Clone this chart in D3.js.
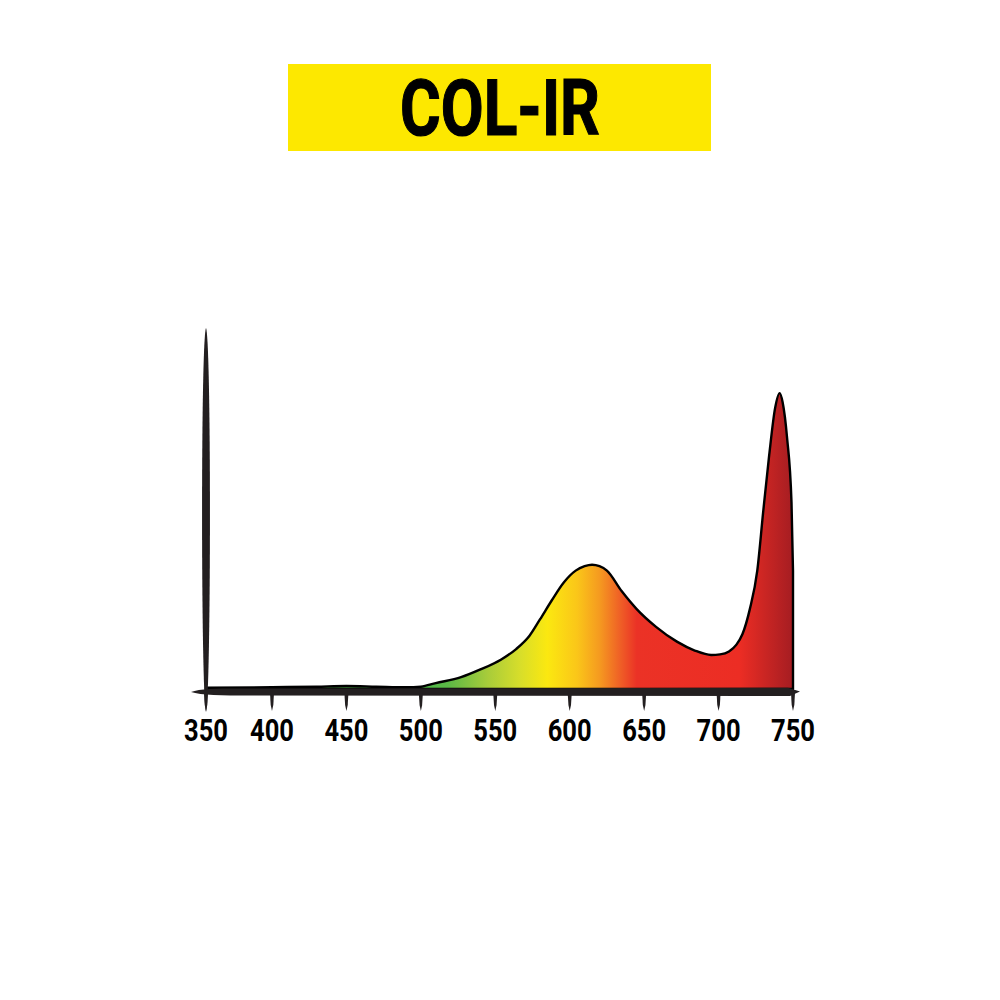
<!DOCTYPE html>
<html>
<head>
<meta charset="utf-8">
<script src="https://cdn.jsdelivr.net/npm/d3@7"></script>
<style>
  html, body { margin: 0; padding: 0; background: #ffffff; }
  svg { display: block; }
</style>
</head>
<body>
<svg id="chart" width="1000" height="1000"></svg>
<script>
// ---- Data ----
const title = "COL-IR";
const tickValues = [350, 400, 450, 500, 550, 600, 650, 700, 750];
const wavelengths = [350, 400, 430, 450, 470, 490, 500, 510, 527, 540, 554, 564, 573, 580, 588, 596, 604, 610, 615, 620, 625, 635, 645, 658, 672, 684, 695, 701, 707, 712, 716, 721, 726, 730, 734, 738, 741, 743, 746, 749, 750];
const intensity   = [0.004, 0.006, 0.008, 0.010, 0.008, 0.006, 0.008, 0.02, 0.04, 0.066, 0.10, 0.135, 0.18, 0.235, 0.30, 0.36, 0.40, 0.415, 0.42, 0.415, 0.40, 0.33, 0.27, 0.21, 0.16, 0.13, 0.115, 0.117, 0.127, 0.15, 0.185, 0.27, 0.40, 0.60, 0.79, 0.95, 1.0, 0.97, 0.85, 0.63, 0.40];
const gradWavelengths = [500, 518, 545, 567, 585, 605, 620, 634, 645, 714, 750];
const gradColors = ["#4db848", "#5bb846", "#a8cc3a", "#d8de2a", "#fbe810", "#fac619", "#f59a20", "#ef5f26", "#eb3226", "#ec2d24", "#a51d22"];

const data = wavelengths.map((w, i) => ({ w, v: intensity[i] }));

// ---- Scales ----
const x = d3.scaleLinear().domain([350, 400, 750]).range([206, 272, 793]);
const y = d3.scaleLinear().domain([0, 1.22]).range([689, 328]);

const svg = d3.select("#chart");
const axisColor = "#231f20";

// ---- Title ----
svg.append("rect")
  .attr("x", 288).attr("y", 64).attr("width", 423).attr("height", 87)
  .attr("fill", "#fde800");
svg.append("text")
  .attr("x", 500).attr("y", 135)
  .attr("text-anchor", "middle")
  .attr("font-family", "Roboto, 'Liberation Sans', sans-serif")
  .attr("font-weight", 700)
  .attr("font-size", 78)
  .attr("textLength", 200)
  .attr("lengthAdjust", "spacingAndGlyphs")
  .attr("fill", "#000")
  .attr("stroke", "#000")
  .attr("stroke-width", 1.2)
  .text(title);

// ---- Gradient ----
const defs = svg.append("defs");
const grad = defs.append("linearGradient")
  .attr("id", "spec")
  .attr("gradientUnits", "userSpaceOnUse")
  .attr("x1", x(350)).attr("x2", x(750))
  .attr("y1", 0).attr("y2", 0);
const span = x(750) - x(350);
gradWavelengths.forEach((w, i) => {
  grad.append("stop")
    .attr("offset", (x(w) - x(350)) / span)
    .attr("stop-color", gradColors[i]);
});

// ---- Spectrum area ----
const area = d3.area()
  .x(d => x(d.w))
  .y0(y(0))
  .y1(d => y(d.v))
  .curve(d3.curveMonotoneX);

svg.append("path")
  .datum(data)
  .attr("d", area)
  .attr("fill", "url(#spec)")
  .attr("stroke", "#000")
  .attr("stroke-width", 2.4)
  .attr("stroke-linejoin", "round");

// ---- Y axis (tapered brush stroke) ----
const yx = x(350);
const yTop = y(1.22);
const yBot = 712;
svg.append("path")
  .attr("d", `M${yx},${yTop} C${yx + 5.5},${yTop + 12} ${yx + 5},${yBot - 12} ${yx},${yBot} C${yx - 5},${yBot - 12} ${yx - 5.5},${yTop + 12} ${yx},${yTop} Z`)
  .attr("fill", axisColor);

// ---- X axis (tapered brush stroke) ----
const ax0 = 191, ax1 = 800, ay = 692;
svg.append("path")
  .attr("d", `M${ax0},${ay} C${ax0 + 10},${ay - 3.8} ${ax0 + 30},${ay - 3.5} ${ax0 + 60},${ay - 3.5}
              L${ax1 - 12},${ay - 4.2} L${ax1},${ay - 0.5} L${ax1 - 10},${ay + 4}
              L${ax0 + 60},${ay + 3.6} C${ax0 + 30},${ay + 3.6} ${ax0 + 10},${ay + 3.3} ${ax0},${ay} Z`)
  .attr("fill", axisColor);

// ticks
const ticks = svg.append("g");
tickValues.forEach(t => {
  const tx = x(t);
  ticks.append("path")
    .attr("d", `M${tx - 2},${ay + 1} L${tx + 2},${ay + 1} L${tx + 1.3},${ay + 13} L${tx},${ay + 19} L${tx - 1.3},${ay + 13} Z`)
    .attr("fill", axisColor);
  ticks.append("text")
    .attr("x", tx)
    .attr("y", 741)
    .attr("text-anchor", "middle")
    .attr("font-family", "Roboto, 'Liberation Sans', sans-serif")
    .attr("font-weight", 700)
    .attr("font-size", 31)
    .attr("textLength", 44)
    .attr("lengthAdjust", "spacingAndGlyphs")
    .attr("fill", "#000")
    .text(t);
});
</script>
</body>
</html>
